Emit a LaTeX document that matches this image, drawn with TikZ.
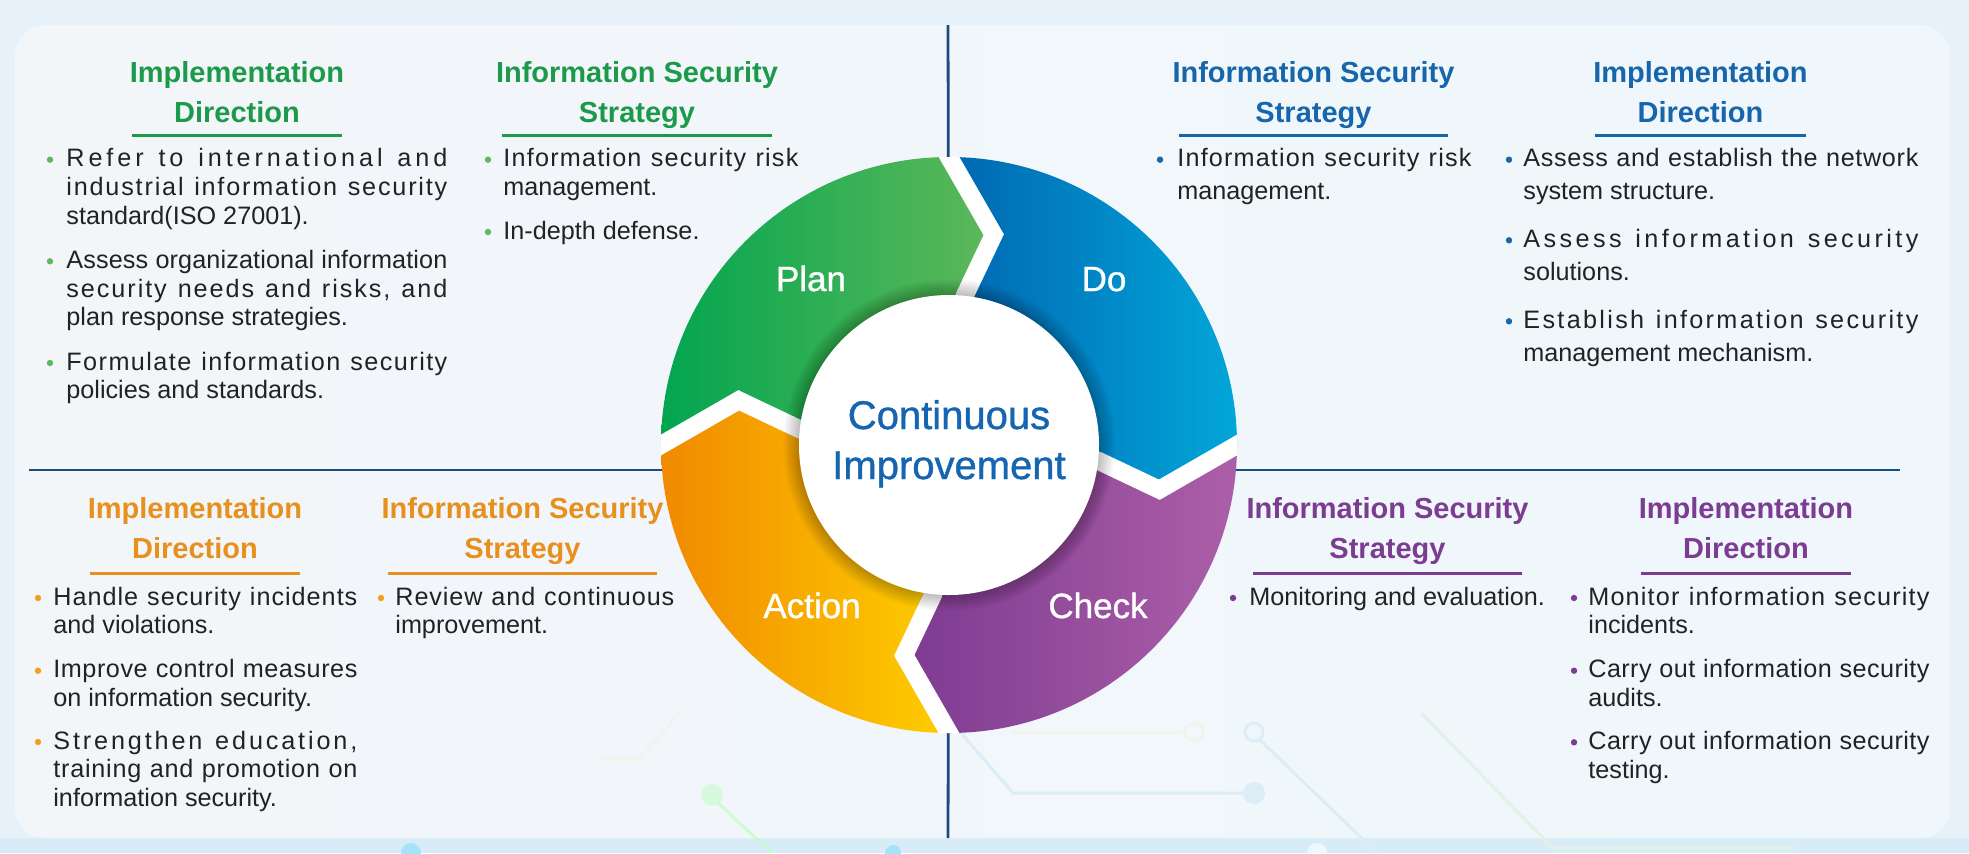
\documentclass[tikz,border=0pt]{standalone}
\usepackage{fontspec}
\setmainfont{Liberation Sans}
\newfontfamily\medfont[FakeBold=1]{Liberation Sans}
\usetikzlibrary{calc}
\definecolor{bgout}{HTML}{E6F1F9}
\definecolor{band}{HTML}{D8ECF8}
\definecolor{panelL}{HTML}{F3F6F9}
\definecolor{panelR}{HTML}{EFF7FC}
\definecolor{navy}{HTML}{1B4C7C}
\definecolor{txt}{HTML}{222222}
\definecolor{grn}{HTML}{1C9A4A}
\definecolor{grnb}{HTML}{5DB85F}
\definecolor{blu}{HTML}{1766AB}
\definecolor{org}{HTML}{E8901E}
\definecolor{orgb}{HTML}{F0A020}
\definecolor{pur}{HTML}{7B3C91}
\definecolor{ctr}{HTML}{1565B0}
\definecolor{plA}{HTML}{00A54F}
\definecolor{plB}{HTML}{62B95B}
\definecolor{doA}{HTML}{0061AE}
\definecolor{doB}{HTML}{02A8DA}
\definecolor{chA}{HTML}{7A3890}
\definecolor{chB}{HTML}{AD60A8}
\definecolor{acA}{HTML}{F08800}
\definecolor{acB}{HTML}{FFD200}
\definecolor{decoB}{HTML}{DDEDF8}
\definecolor{decoY}{HTML}{F1F4EA}
\definecolor{decoG}{HTML}{E2F1E4}

\ExplSyntaxOn
\NewDocumentCommand\sline{m}{\makebox[\linewidth][s]{\str_map_inline:nn{#1}{##1\hskip~0pt~plus~1fil\relax}\unskip}}
\ExplSyntaxOff

% name, color, bullet x, text x, baseline y, width, content
\newcommand\bitem[7]{%
  \fill[#2] (#3,#5-7) circle[radius=3.2];
  \node[body, anchor=base west] (#1) at (#4,#5) {\parbox[t]{#6}{#7}};
}
% name, color, x, y, line1, line2, ux1, ux2, uy
\newcommand\heading[9]{%
  \node[head, text=#2, anchor=base] (#1) at (#3,#4) {\parbox[t]{180pt}{\centering #5\\#6}};
  \draw[#2, line width=1.5pt] (#7,#9) coordinate (#1-l) -- (#8,#9) coordinate (#1-r);
}

\begin{document}
\begin{tikzpicture}[x=0.5pt,y=-0.5pt,
  body/.style={inner sep=0, text=txt, font=\fontsize{12.6}{14.4}\selectfont},
  head/.style={inner sep=0, font=\fontsize{14.5}{20.25}\selectfont\bfseries},
  seplabel/.style={inner sep=0, text=white, font=\fontsize{17.5}{20}\selectfont\medfont, anchor=base},
  sep/.style={navy, line width=1.4pt}]
\useasboundingbox (0,0) rectangle (1969,853);
% background
\fill[bgout] (0,0) rectangle (1969,853);
\fill[band] (0,838) rectangle (1969,853);
\shade[rounded corners=15pt, left color=panelL, right color=panelR] (15,25) rectangle (1950,838);

% faint decoration
\begin{scope}[line width=1.5pt]
  \draw[green!25!white, opacity=0.7] (718,803) -- (772,853);
  \fill[green!30!white, opacity=0.4] (712,795) circle[radius=11];
  \draw[decoB] (961,733) -- (1013,793) -- (1244,793);
  \fill[decoB] (1254,793) circle[radius=11];
  \draw[decoY] (1011,732) -- (1185,732);
  \draw[decoY] (1194,732) circle[radius=9];
  \draw[decoB] (1254,732) circle[radius=9];
  \draw[decoB] (1260,740) -- (1377,853);
  \draw[decoG] (1421,713) -- (1553,848) -- (1796,848);
  \draw[decoY] (600,758) -- (640,758) -- (680,713);
  \fill[cyan!35!white] (411,853) circle[radius=10];
  \fill[cyan!35!white] (893,853) circle[radius=8];
  \fill[white, opacity=0.6] (1317,853) circle[radius=10];
\end{scope}

% separators
\coordinate (C) at (949,445);
\coordinate (vt) at (948,25);
\coordinate (vb) at (948,838);
\coordinate (hl) at (29,470);
\coordinate (hr) at (1900,470);
\draw[sep] (vt) -- (C);
\draw[sep] (vb) -- (C);
\draw[sep] (hl) -- (hr);

% ring geometry
\foreach \n/\p in {t/270,r/360,b/90,l/180}{
  \coordinate (O\n) at ($(C)+(\p:288)$);
  \coordinate (T\n) at ($(C)+(\p+12:215)$);
  \coordinate (B\n) at ($(C)+(\p+6:150)$);
  \coordinate (E\n) at ($(C)+(\p+6:110)$);
  \coordinate (A\n) at ($(O\n)!-0.4!(T\n)$);
}
\begin{scope}
  \clip (C) circle[radius=288];
  \begin{scope}
    \clip (Al) -- (Tl) -- (Bl) -- (C) -- (Bt) -- (Tt) -- (At) -- ($(C)+(225:460)$) -- cycle;
    \shade[left color=plA, right color=plB] (655,140) rectangle (1005,470);
  \end{scope}
  \begin{scope}
    \clip (At) -- (Tt) -- (Bt) -- (C) -- (Br) -- (Tr) -- (Ar) -- ($(C)+(315:460)$) -- cycle;
    \shade[left color=doA, right color=doB] (925,140) rectangle (1245,500);
  \end{scope}
  \begin{scope}
    \clip (Ar) -- (Tr) -- (Br) -- (C) -- (Bb) -- (Tb) -- (Ab) -- ($(C)+(45:460)$) -- cycle;
    \shade[left color=chA, right color=chB] (880,420) rectangle (1245,745);
  \end{scope}
  \begin{scope}
    \clip (Ab) -- (Tb) -- (Bb) -- (C) -- (Bl) -- (Tl) -- (Al) -- ($(C)+(135:460)$) -- cycle;
    \shade[left color=acA, right color=acB] (655,390) rectangle (965,745);
  \end{scope}
  \foreach \n in {t,r,b,l}{
    \draw[white, line width=9pt, line join=miter] (A\n) -- (T\n) -- (B\n) -- (E\n);
  }
  \foreach \k in {1,...,16}{
    \fill[black, opacity=0.016] (C) circle[radius=150+\k];
  }
\end{scope}
\node[circle, fill=white, minimum size=150pt, inner sep=0] (ci) at (C) {};
\node[inner sep=0, anchor=base, text=ctr, font=\fontsize{20}{25}\selectfont\medfont] (ct) at (949,429)
  {\parbox[t]{150pt}{\centering Continuous\\Improvement}};
\node[seplabel] (plan) at (811,291) {Plan};
\node[seplabel] (do) at (1104,291) {Do};
\node[seplabel] (action) at (812,618) {Action};
\node[seplabel] (check) at (1098,618) {Check};

% ---------- Plan quadrant (green)
\heading{gID}{grn}{237}{82}{Implementation}{Direction}{132}{342}{135}
\heading{gIS}{grn}{637}{82}{Information Security}{Strategy}{502}{772}{135}
\bitem{g1}{grnb}{50}{66}{166.7}{190.5pt}{\sline{Refer to international and}\\\sline{industrial information security}\\standard(ISO 27001).}
\bitem{g2}{grnb}{50}{66}{268.3}{190.5pt}{\sline{Assess organizational information}\\\sline{security needs and risks, and}\\plan response strategies.}
\bitem{g3}{grnb}{50}{66}{370}{190.5pt}{\sline{Formulate information security}\\policies and standards.}
\bitem{g4}{grnb}{488}{503}{166.7}{147.5pt}{\sline{Information security risk}\\management.}
\bitem{g5}{grnb}{488}{503}{239}{147.5pt}{In-depth defense.}

% ---------- Do quadrant (blue)
\heading{bIS}{blu}{1313.5}{82}{Information Security}{Strategy}{1179}{1448}{135}
\heading{bID}{blu}{1700.5}{82}{Implementation}{Direction}{1595}{1806}{135}
\bitem{b1}{blu}{1160}{1177}{166.7}{147pt}{\fontsize{12.6}{16.35}\selectfont\sline{Information security risk}\\management.}
\bitem{b2}{blu}{1509}{1523}{166.7}{197.5pt}{\fontsize{12.6}{16.35}\selectfont\sline{Assess and establish the network}\\system structure.}
\bitem{b3}{blu}{1509}{1523}{247.3}{197.5pt}{\fontsize{12.6}{16.35}\selectfont\sline{Assess information security}\\solutions.}
\bitem{b4}{blu}{1509}{1523}{328.3}{197.5pt}{\fontsize{12.6}{16.35}\selectfont\sline{Establish information security}\\management mechanism.}

% ---------- Action quadrant (orange)
\heading{oID}{org}{195}{518}{Implementation}{Direction}{90}{300}{573}
\heading{oIS}{org}{522.5}{518}{Information Security}{Strategy}{388}{657}{573}
\bitem{o1}{orgb}{38}{53}{605}{152pt}{\sline{Handle security incidents}\\and violations.}
\bitem{o2}{orgb}{38}{53}{677.7}{152pt}{\sline{Improve control measures}\\on information security.}
\bitem{o3}{orgb}{38}{53}{749}{152pt}{\sline{Strengthen education,}\\\sline{training and promotion on}\\information security.}
\bitem{o4}{orgb}{381}{395}{605}{139.5pt}{\sline{Review and continuous}\\improvement.}

% ---------- Check quadrant (purple)
\heading{pIS}{pur}{1387.5}{518}{Information Security}{Strategy}{1253}{1522}{573}
\heading{pID}{pur}{1746}{518}{Implementation}{Direction}{1641}{1851}{573}
\bitem{p1}{pur}{1233}{1249}{605}{165pt}{Monitoring and evaluation.}
\bitem{p2}{pur}{1574}{1588}{605}{170.5pt}{\sline{Monitor information security}\\incidents.}
\bitem{p3}{pur}{1574}{1588}{677.7}{170.5pt}{\sline{Carry out information security}\\audits.}
\bitem{p4}{pur}{1574}{1588}{749.3}{170.5pt}{\sline{Carry out information security}\\testing.}
\end{tikzpicture}
\end{document}
